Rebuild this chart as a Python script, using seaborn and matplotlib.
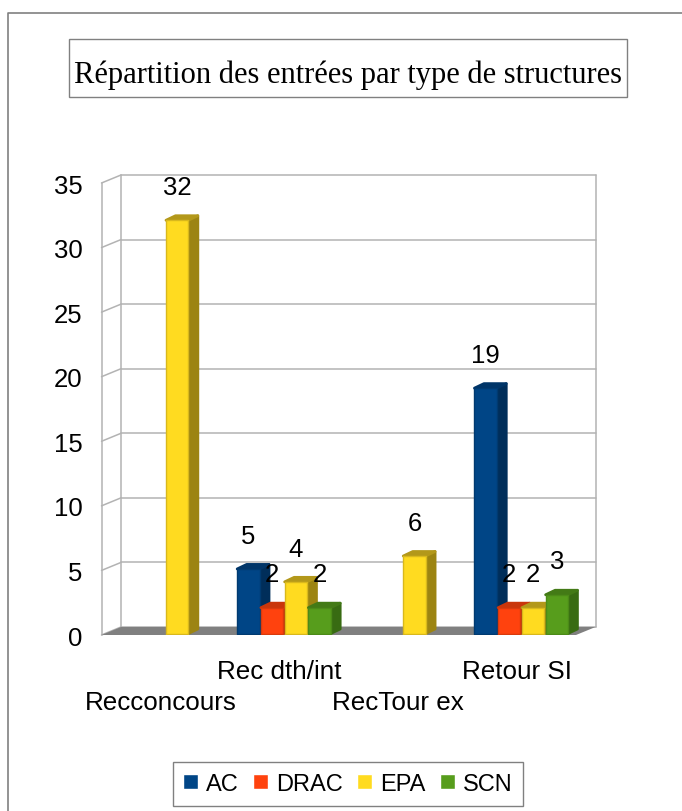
#!/usr/bin/env python3
import matplotlib

matplotlib.use("Agg")
import matplotlib.pyplot as plt
import pandas as pd
import seaborn as sns
from matplotlib.lines import Line2D
from matplotlib.patches import Rectangle

categories = ["Recconcours", "Rec dth/int", "RecTour ex", "Retour SI"]
series_names = ["AC", "DRAC", "EPA", "SCN"]
ac_values = [0, 5, 0, 19]
drac_values = [0, 2, 0, 2]
epa_values = [32, 4, 6, 2]
scn_values = [0, 2, 0, 3]
y_ticks = [0, 5, 10, 15, 20, 25, 30, 35]
title = "Répartition des entrées par type de structures"

front_colors = ["#004586", "#FF420E", "#FFDB20", "#579D1C"]
edge_colors = ["#003A70", "#D93A0C", "#D9B81C", "#4C8A18"]
side_colors = ["#002E5A", "#B02D0A", "#9C8412", "#386B12"]
top_colors = ["#003568", "#C9360B", "#B3981A", "#437A16"]

W, H = 682, 812


def fx(px):
    return px / W


def fy(py):
    return 1 - py / H


def main() -> None:
    sns.set_theme(style="white")
    plt.rcParams["font.family"] = ["Liberation Sans", "DejaVu Sans"]

    df = pd.DataFrame(
        {
            "category": categories * 4,
            "series": [s for s in series_names for _ in categories],
            "value": ac_values + drac_values + epa_values + scn_values,
        }
    )

    fig = plt.figure(figsize=(W / 100, H / 100), dpi=100)
    left, right, bottom, top = 101.5, 576, 636, 184
    ax = fig.add_axes([fx(left), fy(bottom), fx(right - left), (bottom - top) / H])

    sns.barplot(
        data=df,
        x="category",
        y="value",
        hue="series",
        hue_order=series_names,
        palette=front_colors,
        saturation=1,
        width=0.8,
        gap=0.06,
        errorbar=None,
        ax=ax,
    )
    bars = list(ax.patches)
    handles, labels = ax.get_legend_handles_labels()
    ax.get_legend().remove()

    ax.set_xlim(-0.5, 3.5)
    ax.set_ylim(0, 35)
    sns.despine(ax=ax, left=True, bottom=True, right=True, top=True)
    ax.patch.set_alpha(0)
    ax.set_xlabel("")
    ax.set_ylabel("")

    # pixel sizes of the fake 3d depth, turned into data units
    ux = 4 / (right - left)
    uy = 35 / (bottom - top)
    wall_dx, wall_dy = 19.5 * ux, 8 * uy
    bar_dx, bar_dy = 9.5 * ux, 4.5 * uy
    bar_shift, bar_lift = 4.5 * ux, 1.5 * uy

    # floor and walls
    x0, x1 = -0.5, 3.5
    ax.fill(
        [x0, x1, x1 + wall_dx, x0 + wall_dx],
        [0, 0, wall_dy, wall_dy],
        color="#808080",
        lw=0,
        clip_on=False,
        zorder=1,
    )
    wall = dict(color="#b3b3b3", lw=1.1, clip_on=False, zorder=0.5)
    for v in y_ticks:
        ax.plot([x0 + wall_dx, x1 + wall_dx], [v + wall_dy] * 2, **wall)
        ax.plot([x0, x0 + wall_dx], [v, v + wall_dy], **wall)
    ax.plot([x0, x0], [0, 35], **wall)
    ax.plot([x0 + wall_dx] * 2, [wall_dy, 35 + wall_dy], **wall)
    ax.plot([x1 + wall_dx] * 2, [wall_dy, 35 + wall_dy], **wall)

    # bars: seaborn gives the front faces, side and top are built from them
    colors = {c: i for i, c in enumerate(front_colors)}
    for patch in bars:
        h = patch.get_height()
        if h == 0:
            patch.remove()
            continue
        hex_color = matplotlib.colors.to_hex(patch.get_facecolor()).upper()
        i = colors[hex_color]
        patch.set_x(patch.get_x() + bar_shift)
        patch.set_y(bar_lift)
        xa, w = patch.get_x(), patch.get_width()
        xb = xa + w
        ya, yb = bar_lift, bar_lift + h
        z = 2 + xa
        patch.set_edgecolor(edge_colors[i])
        patch.set_linewidth(1)
        patch.set_joinstyle("round")
        patch.set_zorder(z + 0.02)
        ax.fill(
            [xb, xb + bar_dx, xb + bar_dx, xb],
            [ya, ya + bar_dy, yb + bar_dy, yb],
            color=side_colors[i],
            lw=2,
            joinstyle="round",
            clip_on=False,
            zorder=z,
        )
        ax.fill(
            [xa, xb, xb + bar_dx, xa + bar_dx],
            [yb, yb, yb + bar_dy, yb + bar_dy],
            color=top_colors[i],
            lw=2,
            joinstyle="round",
            clip_on=False,
            zorder=z + 0.01,
        )
        ax.annotate(
            f"{h:.0f}",
            (xa + w / 2, yb),
            xytext=(0, 24),
            textcoords="offset points",
            ha="center",
            va="center",
            fontsize=18.5,
            color="black",
            zorder=20,
        )

    ax.set_yticks(y_ticks)
    ax.set_xticks(range(len(categories)))
    ax.set_xticklabels(categories)
    ax.tick_params(axis="y", length=0, labelsize=18.5, pad=13.5, labelcolor="black")
    ax.tick_params(axis="x", length=0, labelsize=18.7, labelcolor="black")
    for i, tick in enumerate(ax.xaxis.get_major_ticks()):
        tick.set_pad(17 if i % 2 else 39.5)

    ax.legend(
        handles,
        labels,
        ncol=4,
        loc="center",
        bbox_to_anchor=(fx(347.7), fy(785)),
        bbox_transform=fig.transFigure,
        frameon=True,
        fancybox=False,
        framealpha=1,
        edgecolor="#808080",
        fontsize=17,
        handlelength=0.63,
        handleheight=0.63,
        handletextpad=0.33,
        columnspacing=0.62,
        borderpad=0.45,
        labelcolor="black",
    )

    # page frame and title box
    fig.add_artist(
        Line2D([fx(8), fx(8), fx(682)], [fy(812), fy(14), fy(14)], color="#808080", lw=1.2)
    )
    fig.add_artist(
        Rectangle(
            (fx(68.5), fy(98)),
            fx(558),
            58 / H,
            transform=fig.transFigure,
            facecolor="white",
            edgecolor="#808080",
            lw=1,
        )
    )
    fig.text(
        fx(348.5),
        fy(83),
        title,
        ha="center",
        va="baseline",
        family="Liberation Serif",
        fontsize=22,
        color="black",
    )

    fig.savefig("out.png", dpi=100)


if __name__ == "__main__":
    main()
